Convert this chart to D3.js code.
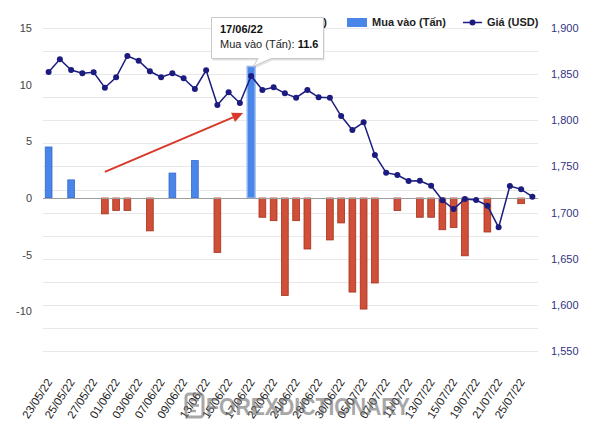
<!DOCTYPE html>
<html>
<head>
<meta charset="utf-8">
<script src="https://cdn.jsdelivr.net/npm/d3@7"></script>
<style>
  html, body { margin: 0; padding: 0; background: #fff; }
  svg { display: block; font-family: "Liberation Sans", Arial, sans-serif; }
</style>
</head>
<body>
<svg id="chart" width="600" height="428"></svg>
<script>
const dates = ["23/05/22","24/05/22","25/05/22","26/05/22","27/05/22","31/05/22","01/06/22","02/06/22","03/06/22","06/06/22",
  "07/06/22","08/06/22","09/06/22","10/06/22","13/06/22","14/06/22","15/06/22","16/06/22","17/06/22","21/06/22",
  "22/06/22","23/06/22","24/06/22","27/06/22","28/06/22","29/06/22","30/06/22","01/07/22","05/07/22","06/07/22",
  "07/07/22","08/07/22","11/07/22","12/07/22","13/07/22","14/07/22","15/07/22","18/07/22","19/07/22","20/07/22",
  "21/07/22","22/07/22","25/07/22","26/07/22"];
// Mua vào (Tấn) - buying, tons
const muaVao = [4.5,0,1.6,0,0,0,0,0,0,0, 0,2.2,0,3.3,0,0,0,0,11.6,0, 0,0,0,0,0,0,0,0,0,0, 0,0,0,0,0,0,0,0,0,0, 0,0,0,0];
// Bán ra (Tấn) - selling, tons
const banRa = [0,0,0,0,0,-1.4,-1.1,-1.1,0,-2.9, 0,0,0,0,0,-4.8,0,0,0,-1.7, -2.0,-8.6,-2.0,-4.5,0,-3.7,-2.2,-8.3,-9.8,-7.5, 0,-1.1,0,-1.7,-1.7,-2.8,-2.6,-5.1,0,-3.0, 0,0,-0.5,0];
// Giá (USD)
const gia = [1852.3,1866.1,1854.5,1850.9,1852.0,1835.3,1846.6,1869.7,1864.6,1853.1,
  1846.6,1850.9,1845.5,1833.9,1854.2,1816.6,1830.3,1818.7,1848.0,1832.8,
  1835.7,1829.2,1824.5,1832.8,1824.9,1824.5,1804.6,1789.5,1797.8,1762.4,
  1743.2,1740.7,1734.2,1734.5,1729.1,1713.3,1703.9,1714.7,1713.6,1707.5,
  1684.0,1728.8,1725.2,1717.2];
const leftTicks = [15,10,5,0,-5,-10];
const rightTicks = [1900,1850,1800,1750,1700,1650,1600,1550];
const gridTicks = d3.range(1550, 1901, 25);
const seriesNames = ["Bán ra (Tấn)", "Mua vào (Tấn)", "Giá (USD)"];
const highlightIndex = 18;

const W = 600, H = 428;
const m = {left: 43, right: 538, top: 28, bottom: 351};
const svg = d3.select("#chart");

const x = d3.scaleBand().domain(dates).range([m.left, m.right]).paddingInner(0.4).paddingOuter(0.2);
const xc = d => x(d) + x.bandwidth()/2;
const yL = d3.scaleLinear().domain([-13.5, 15]).range([m.bottom, m.top]);
const yR = d3.scaleLinear().domain([1550, 1900]).range([m.bottom, m.top]);

// gridlines
svg.append("g").selectAll("line").data(gridTicks).join("line")
  .attr("x1", m.left).attr("x2", m.right)
  .attr("y1", d => Math.round(yR(d)) + 0.5).attr("y2", d => Math.round(yR(d)) + 0.5)
  .attr("stroke", "#e8e8e8").attr("stroke-width", 1);

// left axis
const axL = svg.append("g").attr("transform", `translate(${m.left - 11},0)`)
  .call(d3.axisLeft(yL).tickValues(leftTicks).tickSize(0).tickPadding(0).tickFormat(d => String(d)));
axL.select(".domain").remove();
axL.selectAll("text").attr("fill", "#444").attr("font-size", 11).attr("font-family", "Liberation Sans, Arial, sans-serif");

// right axis
const axR = svg.append("g").attr("transform", `translate(${m.right + 13},0)`)
  .call(d3.axisRight(yR).tickValues(rightTicks).tickSize(0).tickPadding(0).tickFormat(d3.format(",")));
axR.select(".domain").remove();
axR.selectAll("text").attr("fill", "#33337f").attr("font-size", 11).attr("font-family", "Liberation Sans, Arial, sans-serif");

// x axis labels
const axX = svg.append("g");
axX.selectAll("text").data(dates.filter((d, i) => i % 2 === 0)).join("text")
  .attr("transform", d => `translate(${xc(d) + 4},${m.bottom + 31}) rotate(-57)`)
  .attr("text-anchor", "end")
  .attr("font-size", 11.5).attr("fill", "#222")
  .text(d => d);

// bars
const bars = svg.append("g");
bars.selectAll("rect.buy").data(dates.map((d, i) => ({d, v: muaVao[i], i})).filter(o => o.v > 0)).join("rect")
  .attr("class", "buy")
  .attr("x", o => x(o.d) + (o.i === highlightIndex ? -0.5 : 0))
  .attr("width", o => x.bandwidth() + (o.i === highlightIndex ? 1 : 0))
  .attr("y", o => yL(o.v)).attr("height", o => yL(0) - yL(o.v))
  .attr("fill", "#4a86e8").attr("stroke", o => o.i === highlightIndex ? "#8fb3f0" : "#3468d0").attr("stroke-width", o => o.i === highlightIndex ? 1.5 : 0.8);
bars.selectAll("rect.sell").data(dates.map((d, i) => ({d, v: banRa[i], i})).filter(o => o.v < 0)).join("rect")
  .attr("class", "sell")
  .attr("x", o => x(o.d)).attr("width", x.bandwidth())
  .attr("y", yL(0)).attr("height", o => yL(o.v) - yL(0))
  .attr("fill", "#cf4f38").attr("stroke", "#a5301e").attr("stroke-width", 0.8);

// zero baseline
svg.append("line").attr("x1", m.left).attr("x2", m.right)
  .attr("y1", Math.round(yL(0)) + 0.5).attr("y2", Math.round(yL(0)) + 0.5)
  .attr("stroke", "#9e9e9e").attr("stroke-width", 1.2);

// price line
const line = d3.line().x((v, i) => xc(dates[i])).y(v => yR(v));
svg.append("path").datum(gia).attr("d", line)
  .attr("fill", "none").attr("stroke", "#1c1c80").attr("stroke-width", 1.5);
svg.append("g").selectAll("circle").data(gia).join("circle")
  .attr("cx", (v, i) => xc(dates[i])).attr("cy", v => yR(v)).attr("r", 3)
  .attr("fill", "#1c1c80");

// red arrow annotation
const ax0 = xc(dates[5]), ay0 = yL(2.3);
const ax1 = xc(dates[18]) - 8, ay1 = yL(7.5);
const ang = Math.atan2(ay1 - ay0, ax1 - ax0);
const hl = 11, hw = 5;
const bx = ax1 - hl * Math.cos(ang), by = ay1 - hl * Math.sin(ang);
svg.append("line").attr("x1", ax0).attr("y1", ay0).attr("x2", bx).attr("y2", by)
  .attr("stroke", "#d9382a").attr("stroke-width", 2);
svg.append("path")
  .attr("d", `M${ax1},${ay1} L${bx - hw*Math.sin(ang)},${by + hw*Math.cos(ang)} L${bx + hw*Math.sin(ang)},${by - hw*Math.cos(ang)} Z`)
  .attr("fill", "#d9382a");

// legend
const lg = svg.append("g").attr("font-size", 11).attr("font-weight", "bold").attr("fill", "#222");
lg.append("rect").attr("x", 227).attr("y", 18).attr("width", 20).attr("height", 9).attr("fill", "#cf4f38");
lg.append("text").attr("x", 327).attr("y", 26).attr("text-anchor", "end").text(seriesNames[0]);
lg.append("rect").attr("x", 347).attr("y", 18).attr("width", 20).attr("height", 9).attr("fill", "#4a86e8");
lg.append("text").attr("x", 372).attr("y", 26).text(seriesNames[1]);
lg.append("line").attr("x1", 463).attr("x2", 482).attr("y1", 22.5).attr("y2", 22.5).attr("stroke", "#1c1c80").attr("stroke-width", 1.5);
lg.append("circle").attr("cx", 472.5).attr("cy", 22.5).attr("r", 3).attr("fill", "#1c1c80");
lg.append("text").attr("x", 487).attr("y", 26).text(seriesNames[2]);

// tooltip
const tx = 211.5, ty = 17.5, tw = 112, th = 41;
const tipX = xc(dates[highlightIndex]) + 2, tipY = yL(muaVao[highlightIndex]);
const tg = svg.append("g");
const shadow = `M${tx},${ty} h${tw} v${th} H${tipX + 18} L${tipX},${tipY} L${tipX + 5},${ty + th} H${tx} Z`;
tg.append("path").attr("d", shadow).attr("transform", "translate(1,2)").attr("fill", "rgba(0,0,0,0.12)");
tg.append("path").attr("d", shadow).attr("fill", "#fff").attr("stroke", "#c8c8c8").attr("stroke-width", 1);
tg.append("text").attr("x", 220).attr("y", 33).attr("font-size", 11).attr("font-weight", "bold").attr("fill", "#111")
  .text(dates[highlightIndex]);
const t2 = tg.append("text").attr("x", 220).attr("y", 48).attr("font-size", 11).attr("fill", "#222");
t2.append("tspan").text(seriesNames[1] + ": ");
t2.append("tspan").attr("font-weight", "bold").attr("fill", "#111").text(d3.format(".1f")(muaVao[highlightIndex]));

// watermark
const wm = svg.append("g").attr("opacity", 0.6);
wm.append("rect").attr("x", 186).attr("y", 394).attr("width", 17).attr("height", 23).attr("rx", 3)
  .attr("fill", "none").attr("stroke", "#6e6e6e").attr("stroke-width", 3);
wm.append("path").attr("d", "M191,400 h8 M191,405.5 h8 M191,411 h5").attr("stroke", "#6e6e6e").attr("stroke-width", 2.5);
wm.append("text").attr("x", 206).attr("y", 415).attr("font-size", 23).attr("font-weight", "bold")
  .attr("fill", "#6e6e6e").attr("textLength", 204).attr("lengthAdjust", "spacingAndGlyphs")
  .text("FOREXDICTIONARY");
</script>
</body>
</html>
